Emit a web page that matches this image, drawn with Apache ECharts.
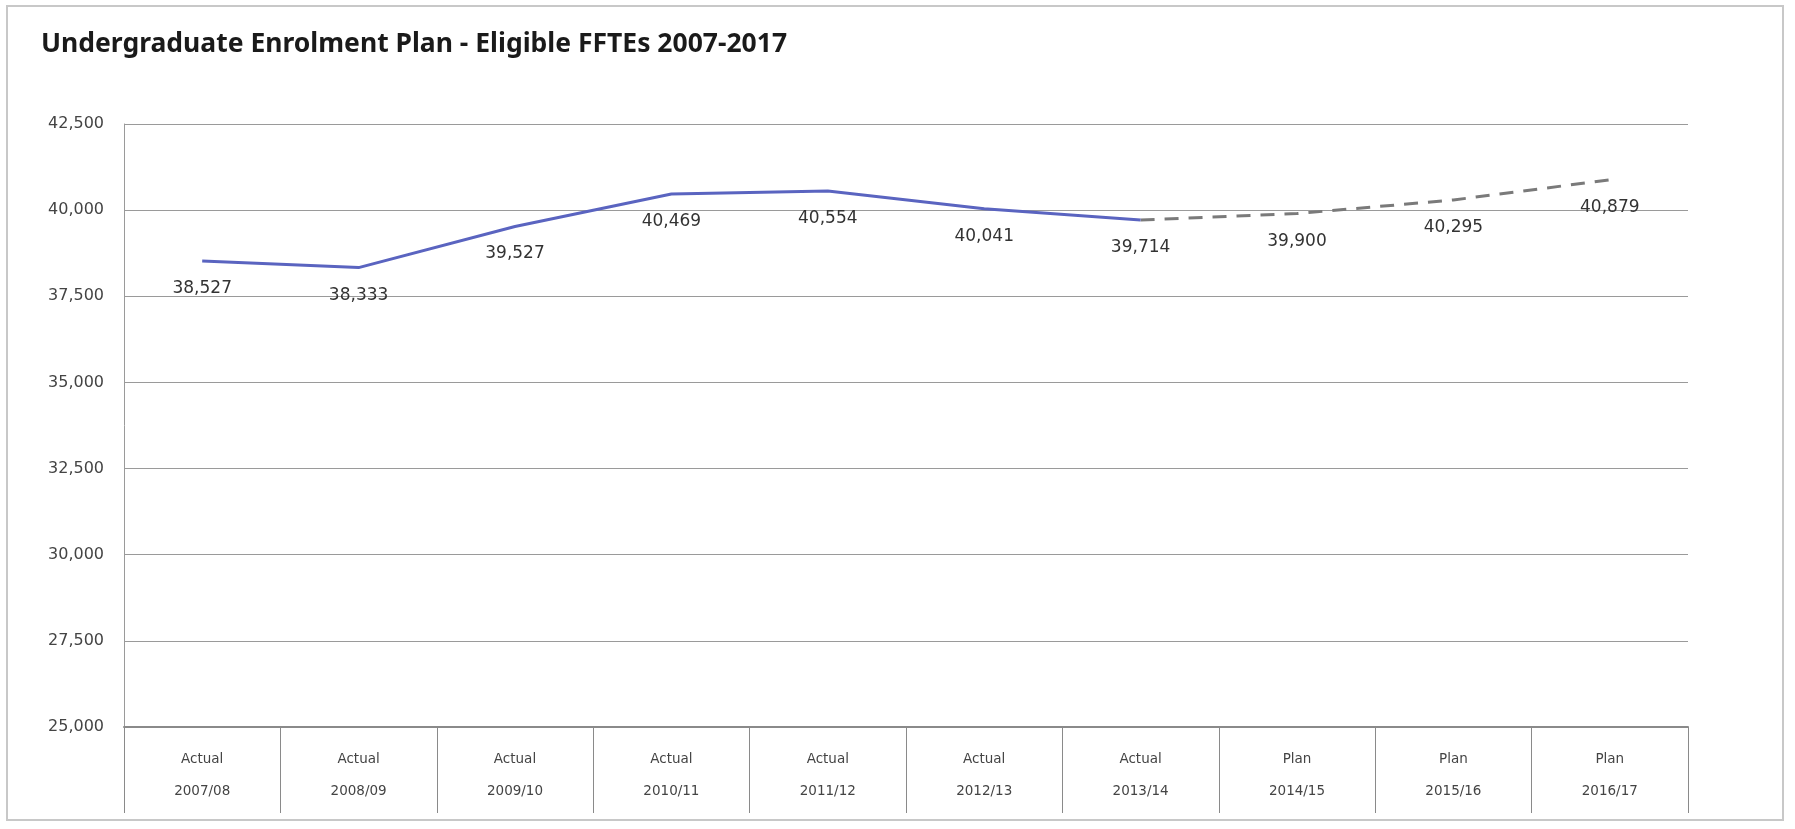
<!DOCTYPE html>
<html>
<head>
<meta charset="utf-8">
<script src="https://cdn.jsdelivr.net/npm/echarts@6/dist/echarts.min.js"></script>
<style>
html,body{margin:0;padding:0;background:#fff;}
#chart{width:1795px;height:829px;}
</style>
</head>
<body>
<div id="chart"></div>
<script>
const categories = ['Actual\n2007/08','Actual\n2008/09','Actual\n2009/10','Actual\n2010/11','Actual\n2011/12','Actual\n2012/13','Actual\n2013/14','Plan\n2014/15','Plan\n2015/16','Plan\n2016/17'];
const actualValues = [38527, 38333, 39527, 40469, 40554, 40041, 39714, null, null, null];
const planValues = [null, null, null, null, null, null, 39714, 39900, 40295, 40879];
const planLabelFrom = 7;
const yTicks = {min: 25000, max: 42500, interval: 2500};

function fmt(v){ return String(v).replace(/\B(?=(\d{3})+(?!\d))/g, ','); }

const chart = echarts.init(document.getElementById('chart'));
chart.setOption({
  backgroundColor: '#ffffff',
  animation: false,
  title: {
    text: 'Undergraduate Enrolment Plan - Eligible FFTEs 2007-2017',
    left: 36, top: 26,
    textStyle: {fontFamily: 'Noto Sans', fontWeight: 'bold', fontSize: 26.5, color: '#1a1a1a'}
  },
  graphic: [{
    type: 'rect', shape: {x: 7, y: 6, width: 1776, height: 814},
    style: {fill: 'none', stroke: '#c8c8c8', lineWidth: 2}, silent: true, z: -1
  }],
  grid: {left: 124, right: 107, top: 124, bottom: 102},
  xAxis: {
    type: 'category', data: categories, boundaryGap: true,
    axisLine: {show: true, lineStyle: {color: '#8a8a8a', width: 2}},
    axisTick: {show: true, interval: 0, length: 86, lineStyle: {color: '#8a8a8a', width: 1}},
    axisLabel: {interval: 0, margin: 16, lineHeight: 32, fontFamily: 'DejaVu Sans', fontSize: 13.5, color: '#444'}
  },
  yAxis: {
    type: 'value', min: yTicks.min, max: yTicks.max, interval: yTicks.interval,
    axisLine: {show: true, lineStyle: {color: '#9a9a9a', width: 1}},
    axisTick: {show: false},
    splitLine: {show: true, lineStyle: {color: '#9a9a9a', width: 1}},
    axisLabel: {margin: 20, fontFamily: 'DejaVu Sans', fontSize: 16, color: '#444', formatter: v => fmt(v)}
  },
  series: [
    {
      name: 'Actual', type: 'line', data: actualValues, symbol: 'circle', symbolSize: 0, showSymbol: true,
      itemStyle: {color: '#5a64c0'},
      lineStyle: {color: '#5a64c0', width: 3},
      label: {show: true, position: 'bottom', distance: 19, fontFamily: 'DejaVu Sans', fontSize: 17, color: '#333',
        formatter: p => p.value == null ? '' : fmt(p.value)},
      z: 3
    },
    {
      name: 'Plan', type: 'line', data: planValues, symbol: 'circle', symbolSize: 0, showSymbol: true,
      itemStyle: {color: '#7a7a7a'},
      lineStyle: {color: '#7a7a7a', width: 3, type: [14, 10]},
      label: {show: true, position: 'bottom', distance: 19, fontFamily: 'DejaVu Sans', fontSize: 17, color: '#333',
        formatter: p => (p.value == null || p.dataIndex < planLabelFrom) ? '' : fmt(p.value)},
      z: 2
    }
  ]
});
</script>
</body>
</html>
